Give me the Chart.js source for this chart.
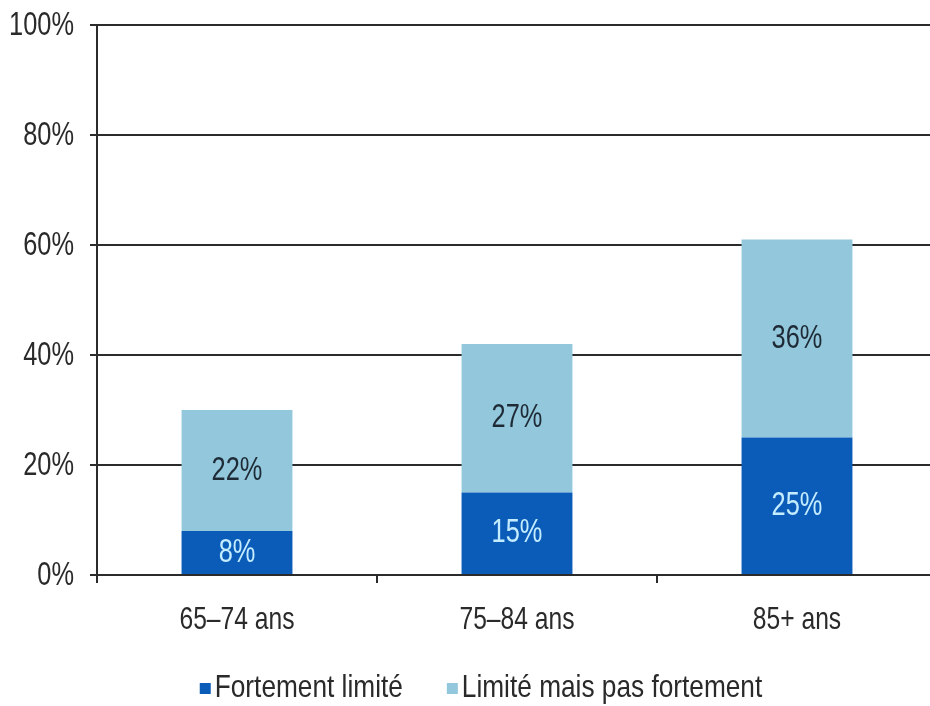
<!DOCTYPE html>
<html>
<head>
<meta charset="utf-8">
<script src="https://cdn.jsdelivr.net/npm/chart.js@4/dist/chart.umd.min.js"></script>
<style>
    html, body { margin: 0; padding: 0; background: #fff; overflow: hidden; }
    #wrap { width: 940px; height: 706px; }
</style>
</head>
<body>
<div id="wrap"><canvas id="mainChart" width="940" height="706"></canvas></div>
<script>
const categories = ['65\u201374 ans', '75\u201384 ans', '85+ ans'];
const fortement = [8, 15, 25];
const limite = [22, 27, 36];
const yTicks = [0, 20, 40, 60, 80, 100];

const FONT = "'Liberation Sans', Arial, sans-serif";
const NARROW = 0.77; // the original uses a narrow face, squeeze a regular one
const DARK = '#0a5cb8';
const LIGHT = '#93c8dc';
const AXIS = '#2b2b2b';
const TEXT = '#2a2a2a';

function narrowText(ctx, text, x, y, align, size, color, squeeze) {
    ctx.save();
    ctx.font = size + 'px ' + FONT;
    ctx.textAlign = align;
    ctx.textBaseline = 'middle';
    ctx.fillStyle = color;
    ctx.translate(x, y);
    ctx.scale(squeeze || NARROW, 1);
    ctx.fillText(text, 0, 0);
    ctx.restore();
}

function narrowWidth(ctx, text, size, squeeze) {
    ctx.save();
    ctx.font = size + 'px ' + FONT;
    const w = ctx.measureText(text).width * (squeeze || NARROW);
    ctx.restore();
    return w;
}

// tick labels, placed with the chart's own scales
const axisLabels = {
    id: 'axisLabels',
    afterDraw(chart) {
        const ctx = chart.ctx;
        const xs = chart.scales.x, ys = chart.scales.y;
        ys.ticks.forEach(t => {
            narrowText(ctx, t.value + '%', ys.right - 23, ys.getPixelForValue(t.value) + 1, 'right', 33, TEXT);
        });
        categories.forEach((c, i) => {
            narrowText(ctx, c, xs.getPixelForTick(i), xs.top + 45, 'center', 32, TEXT);
        });
    }
};

// values written in the middle of each segment
const barLabels = {
    id: 'barLabels',
    afterDatasetsDraw(chart) {
        const ctx = chart.ctx;
        chart.data.datasets.forEach((ds, i) => {
            const meta = chart.getDatasetMeta(i);
            meta.data.forEach((bar, j) => {
                const c = bar.getCenterPoint();
                narrowText(ctx, ds.data[j] + '%', c.x, c.y, 'center', 33, ds.labelColor);
            });
        });
    }
};

// legend with small squares close to the text
const bottomLegend = {
    id: 'bottomLegend',
    afterDraw(chart) {
        const ctx = chart.ctx;
        const y = 688;
        const box = 11, gap = 4, between = 44, sq = 0.82;
        const items = chart.data.datasets.map(ds => ({
            text: ds.label, color: ds.backgroundColor,
            w: box + gap + narrowWidth(ctx, ds.label, 32, sq)
        }));
        const total = items.reduce((s, it) => s + it.w, 0) + between * (items.length - 1);
        let x = 481 - total / 2;
        items.forEach(it => {
            ctx.fillStyle = it.color;
            ctx.fillRect(x, y - 5, box, box);
            narrowText(ctx, it.text, x + box + gap, y, 'left', 32, TEXT, sq);
            x += it.w + between;
        });
    }
};

const ctx = document.getElementById('mainChart').getContext('2d');
new Chart(ctx, {
    type: 'bar',
    data: {
        labels: categories,
        datasets: [
            {
                label: 'Fortement limité',
                data: fortement,
                backgroundColor: DARK,
                labelColor: '#c4ecff',
                barPercentage: 0.396,
                categoryPercentage: 1
            },
            {
                label: 'Limité mais pas fortement',
                data: limite,
                backgroundColor: LIGHT,
                labelColor: '#1e2a36',
                barPercentage: 0.396,
                categoryPercentage: 1
            }
        ]
    },
    options: {
        responsive: false,
        animation: false,
        layout: { padding: { left: 0, top: 25, right: 3, bottom: 67 } },
        plugins: {
            legend: { display: false },
            tooltip: { enabled: false }
        },
        scales: {
            x: {
                stacked: true,
                offset: true,
                grid: {
                    offset: true,
                    drawOnChartArea: false,
                    color: AXIS,
                    lineWidth: 2,
                    tickLength: 8
                },
                border: { display: true, color: AXIS, width: 2 },
                ticks: { display: false },
                afterFit(scale) { scale.height = 64; }
            },
            y: {
                stacked: true,
                min: 0,
                max: 100,
                afterBuildTicks(scale) { scale.ticks = yTicks.map(v => ({ value: v })); },
                grid: { color: AXIS, lineWidth: 2, tickLength: 7 },
                border: { display: true, color: AXIS, width: 2 },
                ticks: { display: false },
                afterFit(scale) { scale.width = 97; }
            }
        }
    },
    plugins: [axisLabels, barLabels, bottomLegend]
});
</script>
</body>
</html>
